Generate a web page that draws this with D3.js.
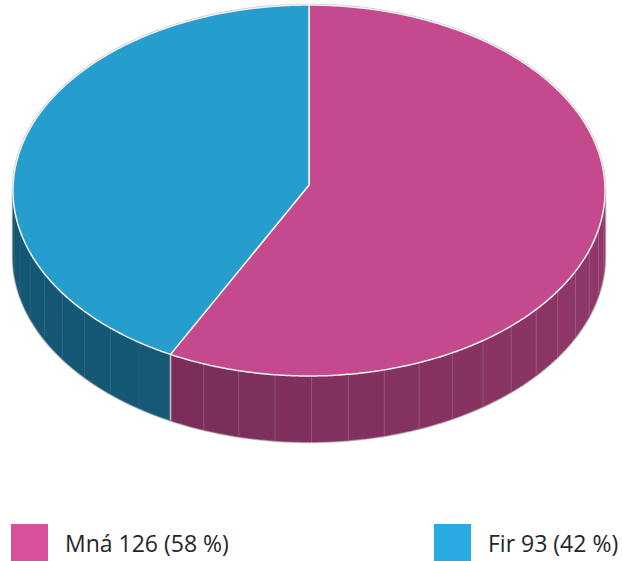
<!DOCTYPE html>
<html>
<head>
<meta charset="utf-8">
<script src="https://cdn.jsdelivr.net/npm/d3@7"></script>
<style>
  body { margin: 0; background: #fff; }
  svg { display: block; }
</style>
</head>
<body>
<div id="chart"></div>
<script>
// data
const categories = ["Mná", "Fir"];
const values = [126, 93];

const width = 622, height = 561;

// geometry of the tilted disc (screen px)
const cx = 309, cy = 185;        // projected centre
const A = 295.9, B = 185.3;      // half axes before perspective
const k = 0.0297;                // perspective strength
const depth = 66;

const topColor = d3.scaleOrdinal().domain(categories).range(["#c44a8d", "#259dcd"]);
const legendColor = d3.scaleOrdinal().domain(categories).range(["#d9509a", "#29abe2"]);
// side shading: [colour at right, colour at left]
const sideColor = {
  "Mná": d3.interpolateRgb("#94386b", "#6c2950"),
  "Fir": d3.interpolateRgb("#175e7e", "#145672")
};
const seamOpacity = {"Mná": 0.14, "Fir": 0.05};

const svg = d3.select("#chart").append("svg")
    .attr("width", width)
    .attr("height", height);

const rad = Math.PI / 180;
function project(theta, z) {
  let u = Math.sin(theta), v = Math.cos(theta);
  let w = 1 + k * v;
  return [cx + A * u / w, cy - B * v / w + z];
}
function arcPoints(a0, a1, z) {
  let pts = [];
  let n = Math.max(2, Math.ceil(Math.abs(a1 - a0) / (0.5 * rad)));
  for (let i = 0; i <= n; i++) pts.push(project(a0 + (a1 - a0) * i / n, z));
  return pts;
}

let pie = d3.pie().sort(null).value(d => d.value);
let arcs = pie(categories.map((c, i) => ({name: c, value: values[i]})));

// visible part of the side (front half)
const visStart = Math.PI - Math.acos(k), visEnd = Math.PI + Math.acos(k);
const line = d3.line();

// outline shadow
let silPath = arcPoints(visEnd - 2 * Math.PI, visStart, 0)
  .concat(arcPoints(visStart, visEnd, depth));
svg.append("path")
    .attr("d", line(silPath) + "Z")
    .attr("fill", "none")
    .attr("stroke", "#a8a8a8")
    .attr("stroke-width", 2.5)
    .attr("stroke-opacity", 0.7);

let sideG = svg.append("g");
arcs.forEach(a => {
  let n = Math.max(1, Math.round((a.endAngle - a.startAngle) / (7 * rad)));
  let step = (a.endAngle - a.startAngle) / n;
  for (let i = 0; i < n; i++) {
    let f0 = Math.max(a.startAngle + i * step, visStart);
    let f1 = Math.min(a.startAngle + (i + 1) * step, visEnd);
    if (f1 <= f0) continue;
    let mid = (f0 + f1) / 2;
    let t = (mid - visStart) / (visEnd - visStart);
    let pts = arcPoints(f0, f1, 0).concat(arcPoints(f0, f1, depth).reverse());
    sideG.append("path")
        .attr("d", line(pts) + "Z")
        .attr("fill", sideColor[a.data.name](t))
        .attr("stroke", sideColor[a.data.name](t))
        .attr("stroke-width", 0.6);
  }
  // faint facet seams
  for (let i = 1; i < n; i++) {
    let ang = a.startAngle + i * step;
    if (ang <= visStart || ang >= visEnd) continue;
    sideG.append("path")
        .attr("d", line([project(ang, 0), project(ang, depth)]))
        .attr("stroke", "#fff")
        .attr("stroke-opacity", seamOpacity[a.data.name])
        .attr("stroke-width", 1);
  }
  // slice boundary on the side
  [a.startAngle, a.endAngle].forEach(ang => {
    if (ang > visStart && ang < visEnd) {
      sideG.append("path")
          .attr("d", line([project(ang, 0), project(ang, depth)]))
          .attr("stroke", "#bdbdbd")
          .attr("stroke-width", 1.5);
    }
  });
});

// top faces
svg.append("g").selectAll("path")
  .data(arcs)
  .join("path")
    .attr("d", a => line([[cx, cy]].concat(arcPoints(a.startAngle, a.endAngle, 0))) + "Z")
    .attr("fill", a => topColor(a.data.name))
    .attr("stroke", "#f2f2f2")
    .attr("stroke-width", 1.5)
    .attr("stroke-linejoin", "round");

// legend
let total = d3.sum(values);
let legendX = [11, 434];
let legend = svg.append("g").selectAll("g")
  .data(categories)
  .join("g")
    .attr("transform", (d, i) => "translate(" + legendX[i] + ",524)");
legend.append("rect")
    .attr("width", 37)
    .attr("height", 37)
    .attr("fill", d => legendColor(d));
legend.append("text")
    .attr("x", 54)
    .attr("y", 28)
    .attr("font-family", "'Open Sans', sans-serif")
    .attr("font-size", 23)
    .attr("fill", "#262626")
    .text((d, i) => d + " " + values[i] + " (" + Math.round(values[i] / total * 100) + " %)");
</script>
</body>
</html>
